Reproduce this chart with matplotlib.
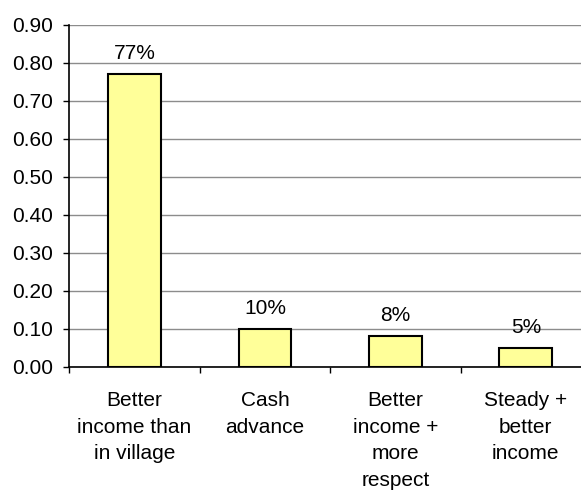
import numpy as np
import matplotlib
matplotlib.use("Agg")
import matplotlib.pyplot as plt

categories = ["Better\nincome than\nin village", "Cash\nadvance",
              "Better\nincome +\nmore\nrespect", "Steady +\nbetter\nincome"]
shares = [0.77, 0.10, 0.08, 0.05]
value_labels = ["77%", "10%", "8%", "5%"]
y_ticks = [0.0, 0.1, 0.2, 0.3, 0.4, 0.5, 0.6, 0.7, 0.8, 0.9]

plt.rcParams['font.family'] = ['Liberation Sans', 'DejaVu Sans']
fs = 15

fig = plt.figure(figsize=(5.81, 4.91), dpi=100)
W, H = 581, 491
left, right, top, bottom = 69.3, 591, 24.7, 366.7
ax = fig.add_axes([left / W, 1 - bottom / H, (right - left) / W, (bottom - top) / H])

x = np.arange(len(categories))
ax.bar(x, shares, width=0.404, color='#FFFF99', edgecolor='black', linewidth=1.5, zorder=3)

for xi, v, lab in zip(x, shares, value_labels):
    ax.annotate(lab, (xi, v), xytext=(0, 8), textcoords='offset points',
                ha='center', va='bottom', fontsize=fs)

ax.set_xlim(-0.5, len(categories) - 0.5)
ax.set_ylim(0, 0.9)
ax.set_yticks(y_ticks)
ax.set_yticklabels([f"{t:.2f}" for t in y_ticks], fontsize=fs)
ax.yaxis.grid(True, color='#8c8c8c', linewidth=1)
ax.set_axisbelow(True)

# category boundary ticks, labels centred under bars
ax.set_xticks(np.arange(len(categories) + 1) - 0.5)
ax.set_xticklabels([])
ax.tick_params(axis='x', length=4.5, width=1, color='black')
ax.tick_params(axis='y', length=4.5, width=1, color='black', pad=7.5)
for xi, c in zip(x, categories):
    ax.text(xi, -0.064, c, ha='center', va='top', fontsize=fs, linespacing=1.5,
            transform=ax.transData)

for s in ['top', 'right']:
    ax.spines[s].set_visible(False)
ax.spines['left'].set_linewidth(1.2)
ax.spines['bottom'].set_linewidth(1.2)

fig.savefig("out.png", dpi=100)
